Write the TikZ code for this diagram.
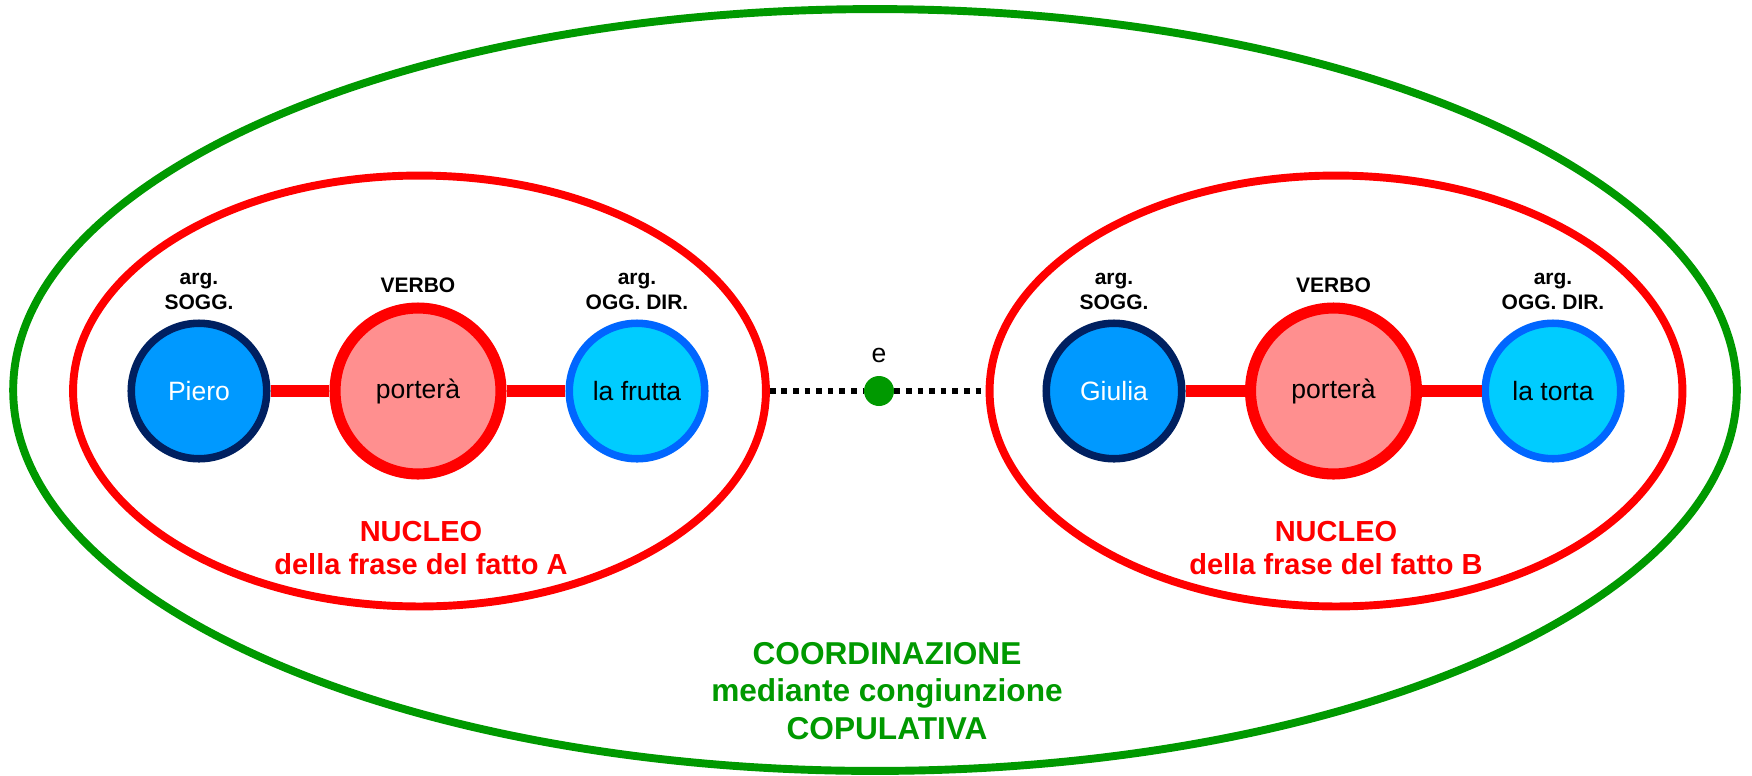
\documentclass[tikz,border=0pt]{standalone}
\usepackage{fontspec}
\setmainfont{Liberation Sans}
\usetikzlibrary{positioning,shapes.geometric}
\definecolor{verde}{HTML}{009900}
\definecolor{rosso}{HTML}{FF0000}
\definecolor{salmone}{HTML}{FF8F8F}
\definecolor{navy}{HTML}{002060}
\definecolor{azzurro}{HTML}{0099FF}
\definecolor{blu}{HTML}{0066FF}
\definecolor{ciano}{HTML}{00CCFF}
\begin{document}
\begin{tikzpicture}[x=0.02cm, y=-0.02cm,
  nucleo/.style={ellipse, draw=rosso, line width=4.5pt, minimum width=13.86cm, minimum height=8.62cm},
  parola/.style={circle, inner sep=0pt, font=\fontsize{15.1}{18}\selectfont},
  sogg/.style={parola, draw=navy, fill=azzurro, line width=4.3pt, minimum size=2.71cm, text=white},
  verbo/.style={parola, draw=rosso, fill=salmone, line width=6.3pt, minimum size=3.32cm},
  ogg/.style={parola, draw=blu, fill=ciano, line width=4.3pt, minimum size=2.71cm},
  etic/.style={inner sep=0pt, align=center, font=\bfseries\fontsize{11.95}{14.3}\selectfont},
  legame/.style={rosso, line width=6.3pt},
  didasc/.style={inner sep=0pt, align=center, text=rosso, font=\bfseries\fontsize{16.5}{19}\selectfont}]
  \useasboundingbox (0,0) rectangle (1752,775);
  \node[ellipse, draw=verde, line width=4.5pt, minimum width=34.48cm, minimum height=15.24cm] (coord) at (875,390) {};
  \node[nucleo] (nucA) at (419.5,391) {};
  \node[nucleo] (nucB) at (1336,391) {};
  % fatto A
  \node[sogg] (sogA) at (199,391) {Piero};
  \node[verbo] (verA) at (418,391) {porterà};
  \node[ogg] (oggA) at (637,391) {la frutta};
  \draw[legame] (sogA) -- (verA);
  \draw[legame] (verA) -- (oggA);
  \node[etic, above=0.19cm of sogA] {arg.\\SOGG.};
  \node[etic, above=0.19cm of verA] {VERBO};
  \node[etic, above=0.19cm of oggA] {arg.\\OGG. DIR.};
  % fatto B
  \node[sogg] (sogB) at (1114,391) {Giulia};
  \node[verbo] (verB) at (1333.5,391) {porterà};
  \node[ogg] (oggB) at (1553,391) {la torta};
  \draw[legame] (sogB) -- (verB);
  \draw[legame] (verB) -- (oggB);
  \node[etic, above=0.19cm of sogB] {arg.\\SOGG.};
  \node[etic, above=0.19cm of verB] {VERBO};
  \node[etic, above=0.19cm of oggB] {arg.\\OGG. DIR.};
  % congiunzione
  \node[circle, fill=verde, minimum size=0.6cm, inner sep=0pt] (cong) at (879,391) {};
  \node[inner sep=0pt, font=\fontsize{15.1}{18}\selectfont, above=0.26cm of cong] (e) {e};
  \draw[line width=3.2pt, dash pattern=on 3.2pt off 3.4pt] (nucA.east) -- (cong);
  \draw[line width=3.2pt, dash pattern=on 3.2pt off 3.4pt] (cong) -- (nucB.west);
  \node[didasc] (titA) at (421,548) {NUCLEO\\della frase del fatto A};
  \node[didasc] (titB) at (1336,548) {NUCLEO\\della frase del fatto B};
  \node[didasc, text=verde, font=\bfseries\fontsize{18}{21.3}\selectfont] (titC) at (887,691)
    {COORDINAZIONE\\mediante congiunzione\\COPULATIVA};
\end{tikzpicture}
\end{document}
